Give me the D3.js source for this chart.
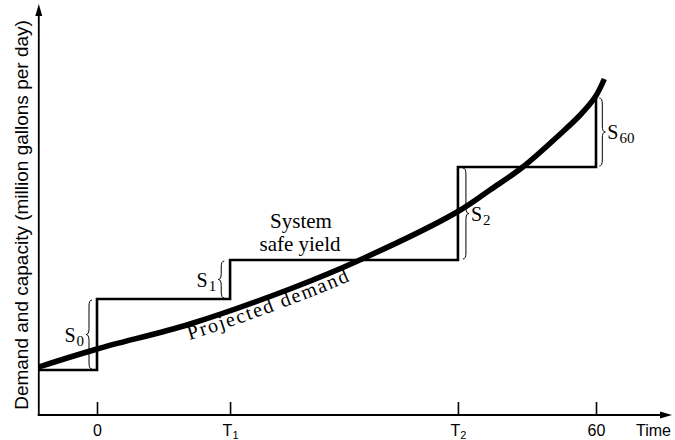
<!DOCTYPE html>
<html>
<head>
<meta charset="utf-8">
<script src="https://cdn.jsdelivr.net/npm/d3@7"></script>
<style>
  html, body { margin: 0; padding: 0; background: #fff; }
  svg { display: block; }
  .serif { font-family: "Liberation Serif", "DejaVu Serif", Times, serif; fill: #000; }
  .sans { font-family: "Liberation Sans", Arial, Helvetica, sans-serif; fill: #000; }
</style>
</head>
<body>
<div id="chart"></div>
<script>
// time axis (0 = now, 60 = planning horizon), values in arbitrary MGD units
const tickValues = [0, 16, 43.4, 60];
const tickLabels = [['0', ''], ['T', '1'], ['T', '2'], ['60', '']];

const yieldTimes  = [-7, 0, 16, 43.4, 60];
const yieldValues = [11.25, 29, 38.75, 62, 79.5];

const demandTimes  = [-7, 0, 11.2, 23.2, 31.6, 43.3, 47.25, 51.2, 55.7, 58.1, 59.9, 61];
const demandValues = [12, 16.5, 22.75, 31.5, 38.75, 50.75, 56.25, 62, 70.25, 75, 79.5, 84];

// surplus / shortfall braces
const braceTimes = [-0.6, 15.3, 44, 60.4];
const braceLow   = [11.25, 29, 38.75, 62];
const braceHigh  = [29, 38.75, 62, 79.5];
const braceSide  = [-1, -1, 1, 1];
const braceNames = [['S', '0'], ['S', '1'], ['S', '2'], ['S', '60']];

(function() {
  const W = 675, H = 440;
  const x = d3.scaleLinear().domain([0, 60]).range([97, 596]);
  const y = d3.scaleLinear().domain([0, 100]).range([415, 15]);
  const x0 = x(-7), y0 = y(0);

  const svg = d3.select('#chart').append('svg').attr('width', W).attr('height', H);

  // axes with arrows
  svg.append('line').attr('x1', x0).attr('y1', y0 + 1).attr('x2', x0).attr('y2', 12)
    .attr('stroke', '#000').attr('stroke-width', 1.8);
  svg.append('path').attr('d', `M${x0},4 L${x0 - 3.5},16 L${x0 + 3.5},16 Z`).attr('fill', '#000');
  svg.append('line').attr('x1', x0 - 1).attr('y1', y0).attr('x2', 664).attr('y2', y0)
    .attr('stroke', '#000').attr('stroke-width', 1.8);
  svg.append('path').attr('d', `M672,${y0} L660,${y0 - 3.5} L660,${y0 + 3.5} Z`).attr('fill', '#000');

  // ticks
  const xAxis = d3.axisBottom(x).tickValues(tickValues).tickSize(0).tickFormat('');
  const ax = svg.append('g').attr('transform', `translate(0,${y0})`).call(xAxis);
  ax.select('.domain').remove();
  ax.selectAll('.tick').append('line').attr('y1', -13).attr('y2', 0)
    .attr('stroke', '#000').attr('stroke-width', 1.6);
  ax.selectAll('.tick').each(function(d, i) {
    const t = d3.select(this).append('text').attr('class', 'sans')
      .attr('y', 21).attr('text-anchor', 'middle')
      .style('font-size', '16px');
    t.append('tspan').text(tickLabels[i][0]);
    if (tickLabels[i][1]) t.append('tspan').attr('dy', 3).style('font-size', '11px').text(tickLabels[i][1]);
  });
  svg.append('text').attr('class', 'sans').attr('x', 636).attr('y', 436)
    .style('font-size', '16px').text('Time');

  svg.append('text').attr('class', 'sans')
    .attr('transform', 'translate(28,215) rotate(-90)').attr('text-anchor', 'middle')
    .style('font-size', '19px')
    .text('Demand and capacity (million gallons per day)');

  // system safe yield (step)
  const yieldData = yieldTimes.map((t, i) => [t, yieldValues[i]]);
  svg.append('path').datum(yieldData)
    .attr('d', d3.line().x(d => x(d[0])).y(d => y(d[1])).curve(d3.curveStepAfter))
    .attr('fill', 'none').attr('stroke', '#000').attr('stroke-width', 2.6)
    .attr('stroke-linejoin', 'miter');

  // projected demand
  const demandData = demandTimes.map((t, i) => [t, demandValues[i]]);
  svg.append('path').attr('id', 'demand').datum(demandData)
    .attr('d', d3.line().x(d => x(d[0])).y(d => y(d[1])).curve(d3.curveCatmullRom.alpha(0.5)))
    .attr('fill', 'none').attr('stroke', '#000').attr('stroke-width', 5.5);

  svg.append('text').attr('class', 'serif').attr('dy', 15)
    .style('font-size', '20px').style('letter-spacing', '1.7px')
    .append('textPath').attr('href', '#demand').attr('startOffset', 152)
    .text('Projected demand');

  // braces
  function brace(bx, ya, yb, d) {
    const w = 6, r = Math.min(6, (yb - ya) / 4), ym = (ya + yb) / 2, m = bx + d * w / 2;
    return `M${bx},${ya} Q${m},${ya} ${m},${ya + r} L${m},${ym - r} Q${m},${ym} ${bx + d * w},${ym}` +
           ` Q${m},${ym} ${m},${ym + r} L${m},${yb - r} Q${m},${yb} ${bx},${yb}`;
  }
  braceTimes.forEach((t, i) => {
    svg.append('path')
      .attr('d', brace(x(t), y(braceHigh[i]) + 1, y(braceLow[i]) - 1, braceSide[i]))
      .attr('fill', 'none').attr('stroke', '#000').attr('stroke-width', 1);
    const tipX = x(t) + braceSide[i] * 8;
    const ym = (y(braceHigh[i]) + y(braceLow[i])) / 2;
    const lab = svg.append('text').attr('class', 'serif')
      .attr('x', tipX).attr('y', ym + 7)
      .attr('text-anchor', braceSide[i] < 0 ? 'end' : 'start')
      .style('font-size', '20px');
    lab.append('tspan').text(braceNames[i][0]);
    lab.append('tspan').attr('dx', 1).attr('dy', 4).style('font-size', '15px').text(braceNames[i][1]);
  });

  // system safe yield label
  const yl = svg.append('text').attr('class', 'serif').attr('text-anchor', 'middle')
    .style('font-size', '21px');
  yl.append('tspan').attr('x', 301).attr('y', 228).text('System');
  yl.append('tspan').attr('x', 300).attr('y', 251).text('safe yield');
})();
</script>
</body>
</html>
